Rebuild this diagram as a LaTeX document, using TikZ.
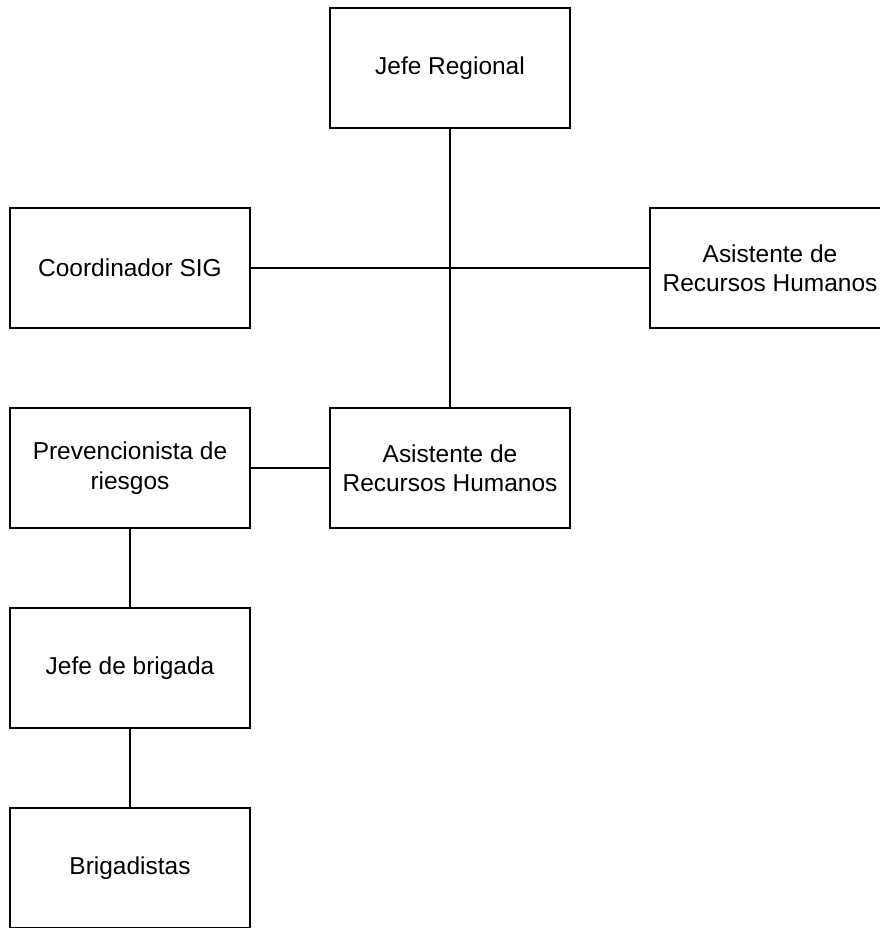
\documentclass[tikz,border=0pt]{standalone}
\usepackage{fontspec}
\setmainfont{Liberation Sans}
\usepackage{tikz}
\usetikzlibrary{positioning}
\tikzset{
  puesto/.style={
    draw=black, line width=1.4pt, fill=white,
    minimum width=6cm, minimum height=3cm,
    align=center, inner sep=0pt,
    font=\fontsize{17.4}{20.9}\selectfont,
  },
  linea/.style={line width=1.4pt},
}
\begin{document}
\begin{tikzpicture}

        \clip (0,0) rectangle (22,-23.2);

        \node[puesto] (jefe) at (11.25,-1.7){Jefe Regional};
        \node[puesto] (coord) at (3.25,-6.7){Coordinador SIG};
        \node[puesto] (asisder) at (19.25,-6.7){Asistente de\\Recursos Humanos};
        \node[puesto] (asismed) at (11.25,-11.7){Asistente de\\Recursos Humanos};
        \node[puesto] (prev) at (3.25,-11.7){Prevencionista de\\riesgos};
        \node[puesto] (brigada) at (3.25,-16.7){Jefe de brigada};
        \node[puesto] (brigadistas) at (3.25,-21.7){Brigadistas};

        \draw[linea] (jefe.south) -- (asismed.north);
        \draw[linea] (coord.east) -- (asisder.west);
        \draw[linea] (prev.east) -- (asismed.west);
        \draw[linea] (prev.south) -- (brigada.north);
        \draw[linea] (brigada.south) -- (brigadistas.north);

\end{tikzpicture}
\end{document}
